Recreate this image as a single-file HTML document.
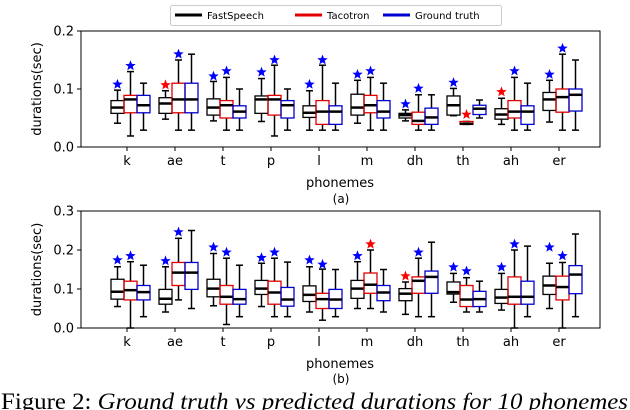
<!DOCTYPE html>
<html><head><meta charset="utf-8"><style>
html,body{margin:0;padding:0;background:#fff;width:630px;height:410px;overflow:hidden}
svg{display:block;font-family:"DejaVu Sans","Liberation Sans",sans-serif}
</style></head><body>
<svg id="chart" width="630" height="410" xmlns="http://www.w3.org/2000/svg"></svg>
<script>
const phonemes = ["k","ae","t","p","l","m","dh","th","ah","er"];
const seriesNames = ["FastSpeech","Tacotron","Ground truth"];
const seriesColors = ["#000000","#e00000","#0000d0"];
// [whisker-low, q1, median, q3, whisker-high] per phoneme, panel (a)
const aFast = [[0.041,0.058,0.068,0.08,0.098],[0.048,0.058,0.075,0.085,0.097],[0.045,0.055,0.068,0.083,0.113],[0.044,0.058,0.082,0.088,0.118],[0.029,0.051,0.059,0.071,0.097],[0.041,0.055,0.068,0.091,0.115],[0.045,0.05,0.055,0.058,0.064],[0.054,0.055,0.072,0.088,0.101],[0.039,0.048,0.056,0.066,0.084],[0.043,0.063,0.082,0.094,0.115]];
const aTaco = [[0.019,0.059,0.082,0.089,0.13],[0.029,0.059,0.082,0.11,0.15],[0.029,0.05,0.072,0.08,0.12],[0.019,0.055,0.082,0.089,0.141],[0.029,0.039,0.061,0.08,0.141],[0.029,0.059,0.072,0.089,0.12],[0.029,0.039,0.045,0.06,0.09],[0.039,0.039,0.040,0.044,0.044],[0.029,0.05,0.061,0.08,0.12],[0.029,0.06,0.086,0.1,0.16]];
const aTrue = [[0.029,0.059,0.072,0.089,0.11],[0.029,0.059,0.082,0.11,0.16],[0.029,0.05,0.061,0.071,0.1],[0.029,0.05,0.072,0.08,0.1],[0.029,0.039,0.061,0.071,0.11],[0.029,0.05,0.061,0.08,0.11],[0.029,0.039,0.051,0.067,0.09],[0.05,0.056,0.066,0.072,0.081],[0.029,0.039,0.061,0.071,0.11],[0.029,0.062,0.09,0.1,0.15]];
const aFastStar = [0.108,0.107,0.122,0.129,0.108,0.125,0.074,0.111,0.095,0.125];
const aFastStarRed = [0,1,0,0,0,0,0,0,1,0];
const aTacoStar = [0.14,0.16,0.131,0.15,0.15,0.131,0.101,0.056,0.131,0.17];
const aTacoStarRed = [0,0,0,0,0,0,0,1,0,0];
// panel (b)
const bFast = [[0.055,0.074,0.093,0.125,0.157],[0.041,0.061,0.075,0.099,0.157],[0.057,0.08,0.101,0.125,0.191],[0.055,0.086,0.101,0.122,0.166],[0.041,0.068,0.085,0.108,0.157],[0.05,0.076,0.101,0.122,0.17],[0.035,0.07,0.088,0.101,0.118],[0.066,0.087,0.092,0.118,0.14],[0.046,0.063,0.078,0.099,0.14],[0.05,0.086,0.109,0.133,0.166]];
const bTaco = [[0.0,0.072,0.097,0.12,0.17],[0.072,0.109,0.142,0.168,0.23],[0.009,0.061,0.08,0.109,0.179],[0.029,0.061,0.091,0.12,0.179],[0.02,0.05,0.074,0.089,0.151],[0.05,0.089,0.111,0.141,0.2],[0.029,0.089,0.121,0.131,0.179],[0.041,0.055,0.073,0.109,0.129],[0.0,0.061,0.08,0.131,0.2],[0.0,0.072,0.105,0.133,0.168]];
const bTrue = [[0.029,0.072,0.092,0.109,0.161],[0.05,0.099,0.142,0.168,0.25],[0.029,0.061,0.074,0.099,0.161],[0.029,0.056,0.073,0.104,0.169],[0.029,0.05,0.073,0.099,0.15],[0.041,0.07,0.091,0.109,0.15],[0.029,0.089,0.131,0.146,0.22],[0.041,0.055,0.074,0.094,0.12],[0.029,0.061,0.08,0.12,0.21],[0.029,0.088,0.137,0.16,0.241]];
const bFastStar = [0.174,0.172,0.207,0.18,0.174,0.185,0.133,0.156,0.156,0.207];
const bFastStarRed = [0,0,0,0,0,0,1,0,0,0];
const bTacoStar = [0.185,0.246,0.194,0.194,0.163,0.215,0.194,0.146,0.215,0.185];
const bTacoStarRed = [0,0,0,0,0,1,0,0,0,0];
const aTicks = [0.0,0.1,0.2];
const bTicks = [0.0,0.1,0.2,0.3];

const svg = document.getElementById('chart');
const NS = "http://www.w3.org/2000/svg";
function mk(tag, attrs, parent){const e=document.createElementNS(NS,tag);for(const k in attrs)e.setAttribute(k,attrs[k]);(parent||svg).appendChild(e);return e;}
const X0=81,X1=600;
function xScale(i){return 127+i*48;}
const offsets=[-16,-3,10], BW=13;

function starPts(cx,cy,r){let p=[];for(let k=0;k<10;k++){const a=-Math.PI/2+k*Math.PI/5;const rr=k%2?r*0.42:r;p.push((cx+rr*Math.cos(a)).toFixed(1)+","+(cy+rr*Math.sin(a)).toFixed(1));}return p.join(" ");}

function panel(name,top,bottom,ymax,ticks,series,fs,fsr,ts,tsr,sub,subY){
  const y=v=>bottom-(v/ymax)*(bottom-top);
  const g=mk('g',{});
  
  
  const fr=mk('rect',{x:X0,y:top,width:X1-X0,height:bottom-top,fill:'none',stroke:'#000','stroke-width':1},g);
  
  
  ticks.forEach(t=>{
    mk('line',{x1:X0-4,x2:X0,y1:y(t),y2:y(t),stroke:'#000'},g);
    const tl=mk('text',{x:X0-7,y:y(t)+4.5,'text-anchor':'end','font-size':13},g);tl.textContent=t.toFixed(1);
    
    
  });
  phonemes.forEach((p,i)=>{
    const xc=xScale(i);
    mk('line',{x1:xc,x2:xc,y1:bottom,y2:bottom+4,stroke:'#000'},g);
    const xl=mk('text',{x:xc,y:bottom+18,'text-anchor':'middle','font-size':13},g);xl.textContent=p;
    
    
    series.forEach((s,si)=>{
      const d=s[i];const cx=xc+offsets[si]+BW/2;const L=cx-BW/2;
      const bg=mk('g',{},g);
      
      
      mk('line',{x1:cx,x2:cx,y1:y(d[0]),y2:y(d[1]),stroke:'#000','stroke-width':1.5},bg);
      mk('line',{x1:cx,x2:cx,y1:y(d[3]),y2:y(d[4]),stroke:'#000','stroke-width':1.5},bg);
      mk('line',{x1:cx-3.5,x2:cx+3.5,y1:y(d[0]),y2:y(d[0]),stroke:'#000','stroke-width':1.5},bg);
      mk('line',{x1:cx-3.5,x2:cx+3.5,y1:y(d[4]),y2:y(d[4]),stroke:'#000','stroke-width':1.5},bg);
      mk('rect',{x:L,y:y(d[3]),width:BW,height:Math.max(0.5,y(d[1])-y(d[3])),fill:'none',stroke:seriesColors[si],'stroke-width':1.3},bg);
      mk('line',{x1:L,x2:L+BW,y1:y(d[2]),y2:y(d[2]),stroke:'#000','stroke-width':2.5},bg);
    });
    [[fs,fsr,0],[ts,tsr,1]].forEach(([arr,red,si])=>{
      const st=mk('polygon',{points:starPts(xc+offsets[si]+BW/2,y(arr[i]),5.5),fill:red[i]?'#f00':'#00f'},g);
      
      
    });
  });
  const yl=mk('text',{x:0,y:0,'text-anchor':'middle','font-size':13,transform:`translate(41,${(top+bottom)/2}) rotate(-90)`},g);yl.textContent='durations(sec)';
  
  
  const xt=mk('text',{x:340,y:bottom+40,'text-anchor':'middle','font-size':13},g);xt.textContent='phonemes';
  
  
  const sb=mk('text',{x:341,y:subY,'text-anchor':'middle','font-size':12},g);sb.textContent=sub;
  
  
}
panel('panel-a',31,147,0.2,aTicks,[aFast,aTaco,aTrue],aFastStar,aFastStarRed,aTacoStar,aTacoStarRed,'(a)',203);
panel('panel-b',211,328,0.3,bTicks,[bFast,bTaco,bTrue],bFastStar,bFastStarRed,bTacoStar,bTacoStarRed,'(b)',383);

// legend
const lg=mk('g',{});


mk('rect',{x:170.5,y:5.5,width:331,height:20,rx:2,fill:'#fff',stroke:'#ccc'},lg);
const lx=[175,295,383];
seriesNames.forEach((n,i)=>{
  const e=mk('g',{},lg);
  
  
  mk('line',{x1:lx[i],x2:lx[i]+27,y1:15,y2:15,stroke:seriesColors[i],'stroke-width':3},e);
  const t=mk('text',{x:lx[i]+32,y:19,'font-size':10},e);t.textContent=n;
});
// caption
const cap=mk('text',{x:1,y:409,'font-size':23,'font-family':'"Liberation Serif",serif',textLength:627,lengthAdjust:'spacingAndGlyphs'});


cap.innerHTML='Figure 2: <tspan font-style="italic">Ground truth vs predicted durations for 10 phonemes</tspan>';
</script>
</body></html>
